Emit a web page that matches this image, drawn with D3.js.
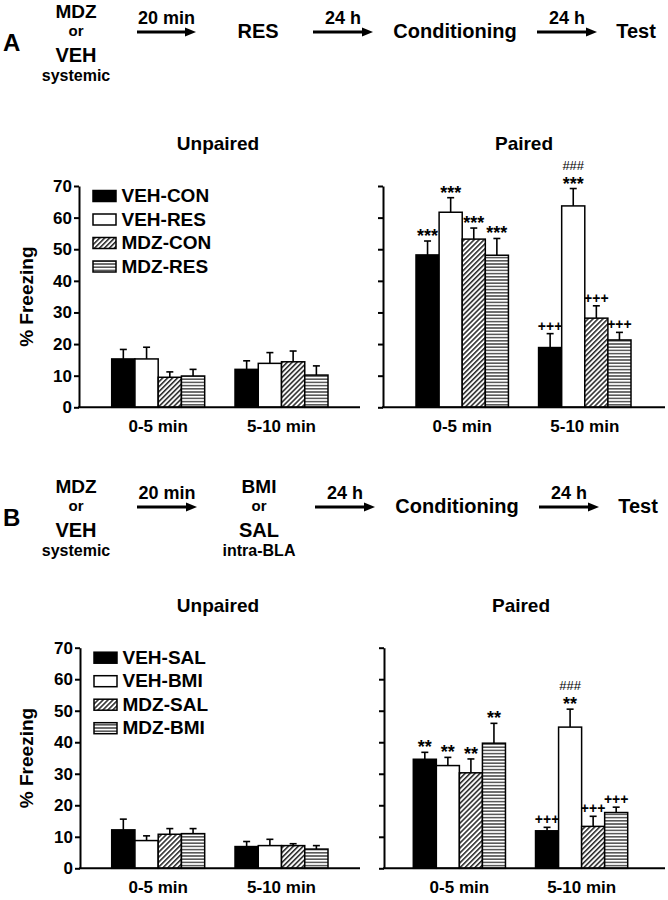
<!DOCTYPE html>
<html><head><meta charset="utf-8">
<script src="https://cdn.jsdelivr.net/npm/d3@7"></script>
<style>
body{margin:0;background:#fff}
svg{display:block}
text{font-family:"Liberation Sans",Arial,sans-serif;font-weight:bold;fill:#000}
</style>
</head><body>
<svg id="c" width="668" height="900"></svg>
<script>
// ---------- DATA ----------
const groups = ["0-5 min", "5-10 min"];
const seriesA = ["VEH-CON", "VEH-RES", "MDZ-CON", "MDZ-RES"];
const seriesB = ["VEH-SAL", "VEH-BMI", "MDZ-SAL", "MDZ-BMI"];
const yTicks = [0, 10, 20, 30, 40, 50, 60, 70];
const panelTitles = ["Unpaired", "Paired"];
const yTitle = "% Freezing";

// means [group][series], SEM (upper error)
const unpairedA = [[15.3, 15.3, 9.5, 9.9], [12.0, 13.9, 14.4, 10.2]];
const unpairedAErr = [[3.0, 3.7, 1.7, 2.1], [2.7, 3.4, 3.4, 2.9]];
const pairedA = [[48.2, 61.7, 53.2, 48.1], [18.9, 63.7, 28.2, 21.3]];
const pairedAErr = [[4.4, 4.6, 3.5, 5.3], [4.4, 5.5, 3.9, 2.4]];
const pairedAMarks = [[["***"], ["***"], ["***"], ["***"]], [["+++"], ["***", "###"], ["+++"], ["+++"]]];

const unpairedB = [[12.2, 8.8, 10.8, 11.0], [6.9, 7.2, 7.2, 6.1]];
const unpairedBErr = [[3.4, 1.5, 1.8, 1.6], [1.6, 2.0, 0.6, 1.1]];
const pairedB = [[34.6, 32.6, 30.3, 39.7], [11.9, 44.8, 13.3, 17.7]];
const pairedBErr = [[2.2, 2.6, 4.4, 6.3], [1.1, 5.7, 3.2, 1.7]];
const pairedBMarks = [[["**"], ["**"], ["**"], ["**"]], [["+++"], ["**", "###"], ["+++"], ["+++"]]];

const stepsA = [["MDZ", "or", "VEH", "systemic"], ["RES"], ["Conditioning"], ["Test"]];
const stepsB = [["MDZ", "or", "VEH", "systemic"], ["BMI", "or", "SAL", "intra-BLA"], ["Conditioning"], ["Test"]];
const arrowLabels = ["20 min", "24 h", "24 h"];
const panelLetters = ["A", "B"];

// ---------- DRAW ----------
const svg = d3.select("#c");
const defs = svg.append("defs");
const pd = defs.append("pattern").attr("id", "diag").attr("patternUnits", "userSpaceOnUse")
  .attr("width", 3.5).attr("height", 10).attr("patternTransform", "rotate(45)");
pd.append("rect").attr("width", 3.5).attr("height", 10).attr("fill", "#fff");
pd.append("line").attr("x1", 0.8).attr("y1", 0).attr("x2", 0.8).attr("y2", 10).attr("stroke", "#000").attr("stroke-width", 1.3);
const ph = defs.append("pattern").attr("id", "horiz").attr("patternUnits", "userSpaceOnUse")
  .attr("width", 10).attr("height", 3.2);
ph.append("rect").attr("width", 10).attr("height", 3.2).attr("fill", "#fff");
ph.append("line").attr("x1", 0).attr("y1", 1.6).attr("x2", 10).attr("y2", 1.6).attr("stroke", "#222").attr("stroke-width", 1.2);

const fillFor = i => ["#000", "#fff", "url(#diag)", "url(#horiz)"][i];

const symStyle = {
  "*": {size: 18, weight: "bold", dy: 1},
  "+": {size: 14, weight: "bold", dy: -3},
  "#": {size: 13, weight: "normal", dy: -19}
};

function drawChart(o) {
  const y = d3.scaleLinear().domain([0, 70]).range([o.y0, o.y70]);
  const x0 = d3.scaleBand().domain(groups).range(o.xr).paddingInner(0.246).paddingOuter(0);
  const x1 = d3.scaleBand().domain(d3.range(4)).range([0, x0.bandwidth()]);
  const g = svg.append("g");

  groups.forEach((grp, gi) => {
    o.means[gi].forEach((m, si) => {
      const bx = x0(grp) + x1(si), bw = x1.bandwidth();
      const cx = bx + bw / 2;
      const top = y(m), etop = y(m + o.errs[gi][si]);
      g.append("line").attr("x1", cx).attr("x2", cx).attr("y1", top).attr("y2", etop)
        .attr("stroke", "#000").attr("stroke-width", 1.6);
      g.append("line").attr("x1", cx - 3.5).attr("x2", cx + 3.5).attr("y1", etop).attr("y2", etop)
        .attr("stroke", "#000").attr("stroke-width", 1.6);
      g.append("rect").attr("x", bx).attr("y", top).attr("width", bw).attr("height", o.y0 - top)
        .attr("fill", fillFor(si)).attr("stroke", "#000").attr("stroke-width", 1.5);
      if (o.marks) {
        o.marks[gi][si].forEach(s => {
          const st = symStyle[s[0]];
          g.append("text").attr("x", cx).attr("y", etop + st.dy).attr("text-anchor", "middle")
            .style("font-size", st.size + "px").style("font-weight", st.weight).text(s);
        });
      }
    });
  });

  const ya = g.append("g").attr("transform", `translate(${o.axisX},0)`)
    .call(d3.axisLeft(y).tickValues(yTicks).tickSize(5).tickSizeOuter(0).tickPadding(2)
      .tickFormat(o.yLabels ? d3.format("d") : () => ""));
  ya.select(".domain").attr("stroke", "#000").attr("stroke-width", 2);
  ya.selectAll(".tick line").attr("stroke", "#000").attr("stroke-width", 2);
  ya.selectAll(".tick text").style("font-size", "17px").style("font-family", '"Liberation Sans",Arial,sans-serif')
    .style("font-weight", "bold").attr("fill", "#000");

  const xa = g.append("g").attr("transform", `translate(0,${o.y0})`)
    .call(d3.axisBottom(x0).tickSize(0));
  xa.select(".domain").remove();
  xa.selectAll(".tick text").attr("dy", null).attr("y", 25).style("font-size", "17px")
    .style("font-family", '"Liberation Sans",Arial,sans-serif').style("font-weight", "bold").attr("fill", "#000");
  g.append("line").attr("x1", o.axisX - 1).attr("x2", o.xEnd).attr("y1", o.y0).attr("y2", o.y0)
    .attr("stroke", "#000").attr("stroke-width", 2);

  g.append("text").attr("x", o.titleX).attr("y", o.y70 - 36).attr("text-anchor", "middle")
    .style("font-size", "19px").text(o.title);

  if (o.yLabels) {
    g.append("text").attr("transform", `translate(33,${(o.y0 + o.y70) / 2}) rotate(-90)`)
      .attr("text-anchor", "middle").style("font-size", "19px").text(yTitle);
  }
  if (o.legend) {
    o.legend.forEach((name, i) => {
      g.append("rect").attr("x", o.axisX + 14).attr("y", o.y70 + 4.5 + i * 23.5).attr("width", 23).attr("height", 11)
        .attr("fill", fillFor(i)).attr("stroke", "#000").attr("stroke-width", 1.5);
      g.append("text").attr("x", o.axisX + 42.5).attr("y", o.y70 + 16 + i * 23.5)
        .style("font-size", "19px").text(name);
    });
  }
}

function arrow(x1, x2, yy, label) {
  svg.append("line").attr("x1", x1).attr("x2", x2 - 8).attr("y1", yy).attr("y2", yy)
    .attr("stroke", "#000").attr("stroke-width", 3);
  svg.append("path").attr("d", `M${x2 - 11},${yy - 4.5}L${x2},${yy}L${x2 - 11},${yy + 4.5}Z`).attr("fill", "#000");
  svg.append("text").attr("x", (x1 + x2) / 2).attr("y", yy - 8).attr("text-anchor", "middle")
    .style("font-size", "18px").text(label);
}

function schematic(top, letter, steps, stepX, arrowX) {
  svg.append("text").attr("x", 3).attr("y", top + 51).style("font-size", "24px").text(letter);
  steps.forEach((lines, i) => {
    if (lines.length === 1) {
      svg.append("text").attr("x", stepX[i]).attr("y", top + 38).attr("text-anchor", "middle")
        .style("font-size", "20px").text(lines[0]);
    } else {
      const sizes = [19, 15, 20, 16], offs = [17.5, 36, 62, 81];
      lines.forEach((t, j) => {
        svg.append("text").attr("x", stepX[i]).attr("y", top + offs[j]).attr("text-anchor", "middle")
          .style("font-size", sizes[j] + "px").text(t);
      });
    }
  });
  arrowX.forEach((a, i) => arrow(a[0], a[1], top + 32, arrowLabels[i]));
}

schematic(0, panelLetters[0], stepsA, [76, 258, 455, 636], [[137, 196], [313, 373], [537, 597]]);
schematic(475, panelLetters[1], stepsB, [76, 259, 457, 638], [[137, 197], [315, 375], [539, 599]]);

drawChart({axisX: 79, y70: 186, y0: 407.3, xr: [111.7, 328], xEnd: 360, means: unpairedA, errs: unpairedAErr,
  yLabels: true, legend: seriesA, title: panelTitles[0], titleX: 218});
drawChart({axisX: 383, y70: 186, y0: 407.3, xr: [416, 631], xEnd: 665, means: pairedA, errs: pairedAErr,
  marks: pairedAMarks, yLabels: false, title: panelTitles[1], titleX: 524});
drawChart({axisX: 80, y70: 647.7, y0: 868.3, xr: [111.7, 328], xEnd: 360, means: unpairedB, errs: unpairedBErr,
  yLabels: true, legend: seriesB, title: panelTitles[0], titleX: 218});
drawChart({axisX: 384, y70: 647.7, y0: 868.3, xr: [413.3, 627.7], xEnd: 665, means: pairedB, errs: pairedBErr,
  marks: pairedBMarks, yLabels: false, title: panelTitles[1], titleX: 521});
</script>
</body></html>
